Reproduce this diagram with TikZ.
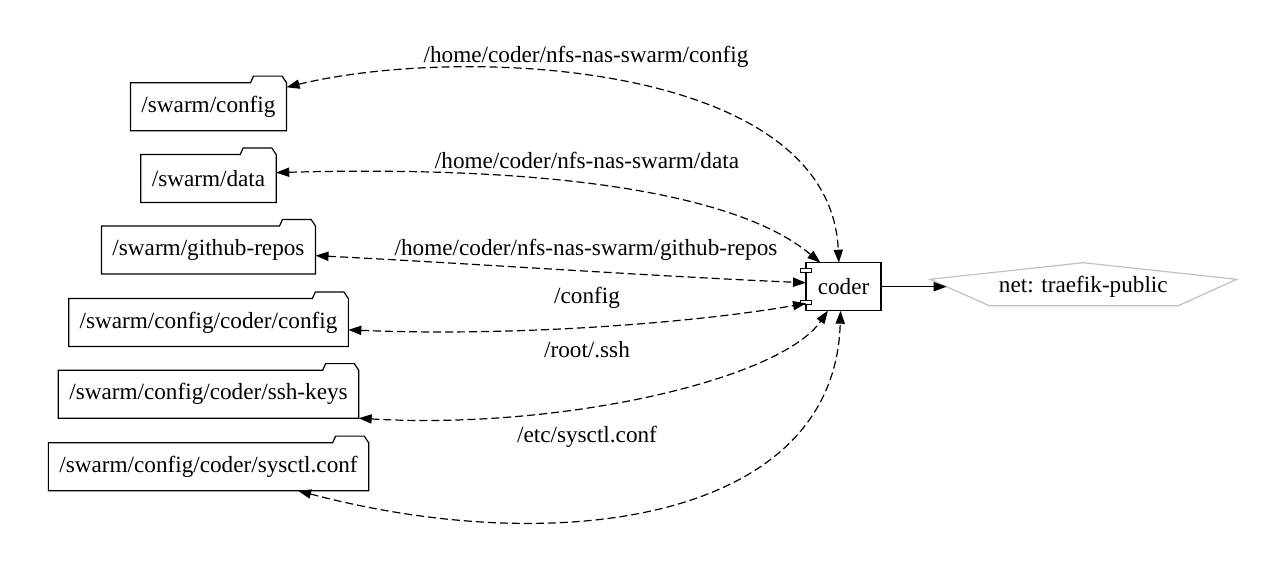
\documentclass[tikz,border=0pt]{standalone}
\usepackage{fontspec}
\setmainfont{LiberationSerif}[Extension=.ttf,UprightFont=*-Regular]
\usepackage{tikz}
\usetikzlibrary{arrows.meta}
\definecolor{netgray}{RGB}{192,192,192}

\begin{document}
\begin{tikzpicture}[x=0.5pt,y=-0.5pt,
  font=\rmfamily\fontsize{11.6}{13.9}\selectfont,
  line width=0.6pt,
  >={Triangle[length=6.5pt,width=4.6pt]},
  folder/.style={minimum height=24pt,inner xsep=5.5pt,outer sep=0pt},
  comp/.style={draw,minimum width=37.5pt,minimum height=24pt,outer sep=0pt},
  net/.style={minimum width=136.7pt,minimum height=22pt,outer sep=0pt},
  mount/.style={dash pattern=on 4pt off 2pt,<->}]
\useasboundingbox (0,0) rectangle (1285,569);

% volumes
\node[folder] (cfg)   at (208.5,106.7) {/swarm/config};
\node[folder] (data)  at (208.5,178.5) {/swarm/data};
\node[folder] (repos) at (208.5,250)   {/swarm/github-repos};
\node[folder] (ccfg)  at (208.5,322.5) {/swarm/config/coder/config};
\node[folder] (ssh)   at (208.5,394.2) {/swarm/config/coder/ssh-keys};
\node[folder] (sys)   at (208.5,466.7) {/swarm/config/coder/sysctl.conf};
\foreach \f in {cfg,data,repos,ccfg,ssh,sys} {
  \draw (\f.south west) -- (\f.north west) -- ([xshift=-18pt]\f.north east)
    -- ([xshift=-16.5pt,yshift=3.3pt]\f.north east)
    -- ([xshift=-2.2pt,yshift=3.3pt]\f.north east)
    -- (\f.north east) -- (\f.south east) -- cycle;
}

% service
\node[comp] (coder) at (843.5,286.7) {coder};
\draw[fill=white] ([xshift=-2.65pt,yshift=-2.8pt]coder.north west) rectangle ++(5.3pt,-2pt);
\draw[fill=white] ([xshift=-2.65pt,yshift=3.3pt]coder.south west) rectangle ++(5.3pt,2pt);

% network
\node[net] (net) at (1083.3,286.7) {net: traefik-public};
\draw[netgray] ([shift={(0,-24)}]net.center) -- ([shift={(-153.3,-7.4)}]net.center)
  -- ([shift={(-94,19)}]net.center) -- ([shift={(95,19)}]net.center)
  -- ([shift={(153.4,-7.4)}]net.center) -- cycle;
\draw[->] (coder.east) -- (net.west);

% mounts
\draw[mount] (cfg.14.5) .. controls (460,45) and (830,60) .. (coder.101.8);
\draw[mount] (data.5) .. controls (560,165) and (740,195) .. (coder.134.4);
\draw[mount] (repos.-3.5) .. controls (480,264) and (650,276) .. (coder.174.4);
\draw[mount] (ccfg.-3.8) .. controls (520,337) and (700,322) .. (coder.-156.1);
\draw[mount] (ssh.south east) .. controls (560,430) and (780,380) .. (coder.-123.7);
\draw[mount] (sys.-15.5) .. controls (560,560) and (835,520) .. (coder.-97.1);

\node (lcfg)   at (586,56.7)  {/home/coder/nfs-nas-swarm/config};
\node (ldata)  at (587,160)   {/home/coder/nfs-nas-swarm/data};
\node (lrepos) at (586,250)   {/home/coder/nfs-nas-swarm/github-repos};
\node (lccfg)  at (587,298.3) {/config};
\node (lssh)   at (587,350)   {/root/.ssh};
\node (lsys)   at (587,436.7) {/etc/sysctl.conf};
\end{tikzpicture}
\end{document}
